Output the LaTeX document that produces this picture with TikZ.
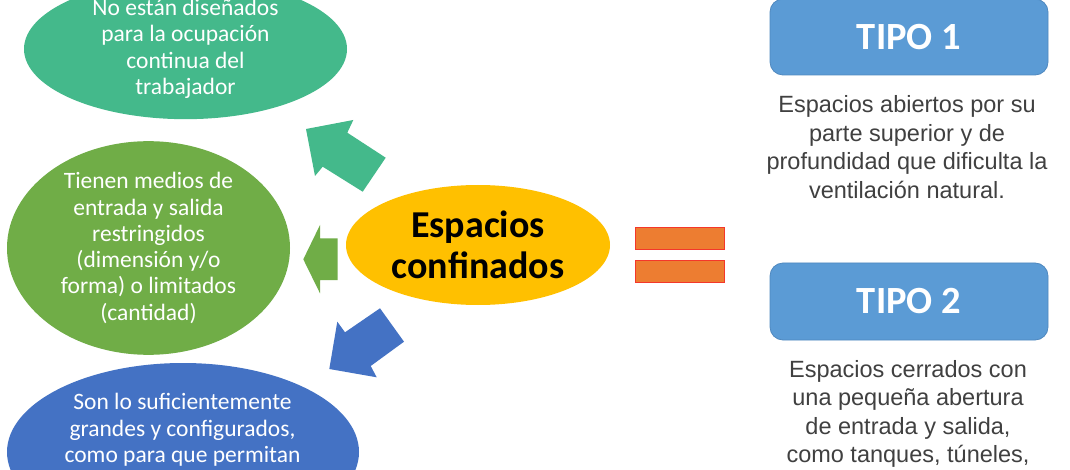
\documentclass[tikz,border=0pt]{standalone}
\usepackage{fontspec}
\setmainfont{Carlito}
\newfontfamily\arialf{Liberation Sans}
\usetikzlibrary{shapes.geometric}
\definecolor{tealc}{HTML}{44B98B}
\definecolor{olivec}{HTML}{70AD47}
\definecolor{bluec}{HTML}{4472C4}
\definecolor{yellowc}{HTML}{FFC000}
\definecolor{tipoc}{HTML}{5B9BD5}
\definecolor{tipob}{HTML}{4F88BF}
\definecolor{orangec}{HTML}{ED7D31}
\definecolor{orangeb}{HTML}{F4372A}
\definecolor{grayt}{HTML}{404040}
\tikzset{
  blob/.style={ellipse, inner sep=0pt, draw=none},
  blobtext/.style={text=white, align=center, font=\fontsize{23.5}{26.3}\selectfont, inner sep=0pt},
  tipobox/.style={rounded corners=13pt, fill=tipoc, draw=tipob, line width=0.8pt, minimum width=278pt, inner sep=0pt,
     text=white, font=\bfseries\fontsize{38.5}{40}\selectfont},
  desc/.style={text=grayt, align=center, font=\arialf\fontsize{23.5}{28.6}\selectfont, inner sep=0pt},
  eqbar/.style={fill=orangec, draw=orangeb, line width=0.8pt, minimum width=89pt, minimum height=22pt, inner sep=0pt}
}
\begin{document}
\begin{tikzpicture}[x=1pt,y=-1pt]
\useasboundingbox[fill=white] (0,0) rectangle (1070,470);

% ellipses
\node[blob, fill=tealc, minimum width=323pt, minimum height=136pt, blobtext] (occ) at (185.5,49)
  {No están diseñados\\para la ocupación\\continua del\\trabajador};
\node[blob, fill=olivec, minimum width=283pt, minimum height=198pt, blobtext] (med) at (148.5,248)
  {Tienen medios de\\entrada y salida\\restringidos\\(dimensión y/o\\forma) o limitados\\(cantidad)};
\node[blob, fill=bluec, minimum width=352pt, minimum height=178pt] (gra) at (183,452) {};
\node[blobtext] (grat) at (182.5,430) {Son lo suficientemente\\grandes y configurados,\\como para que permitan};

\node[blob, fill=yellowc, minimum width=264pt, minimum height=120pt, align=center,
  font=\bfseries\fontsize{38}{40.5}\selectfont] (esp) at (478,245) {Espacios\\confinados};

% block arrows
\fill[tealc] (306,129) -- (353.3,120) -- (347.3,132.7) -- (385.7,157.7) -- (362.7,191.7) -- (322.7,166.7) -- (315,176) -- cycle;
\fill[olivec] (303.3,259.3) -- (320,225) -- (320,238.3) -- (337.7,238.3) -- (337.7,280) -- (320,280) -- (320,293.3) -- cycle;
\fill[bluec] (329.3,369) -- (337.3,321.7) -- (345,332.3) -- (380,308.3) -- (404,341.7) -- (370.7,366) -- (376.7,377.3) -- cycle;

% equal sign
\node[eqbar] (eq1) at (679.5,238) {};
\node[eqbar] (eq2) at (679.5,271) {};

% TIPO boxes
\node[tipobox, minimum height=76pt] (t1) at (909,37) {TIPO 1};
\node[desc] (d1) at (907,147) {Espacios abiertos por su\\parte superior y de\\profundidad que dificulta la\\ventilación natural.};
\node[tipobox, minimum height=77pt] (t2) at (909,301.5) {TIPO 2};
\node[desc] (d2) at (908,414) {Espacios cerrados con\\una pequeña abertura\\de entrada y salida,\\como tanques, túneles,};
\end{tikzpicture}
\end{document}
